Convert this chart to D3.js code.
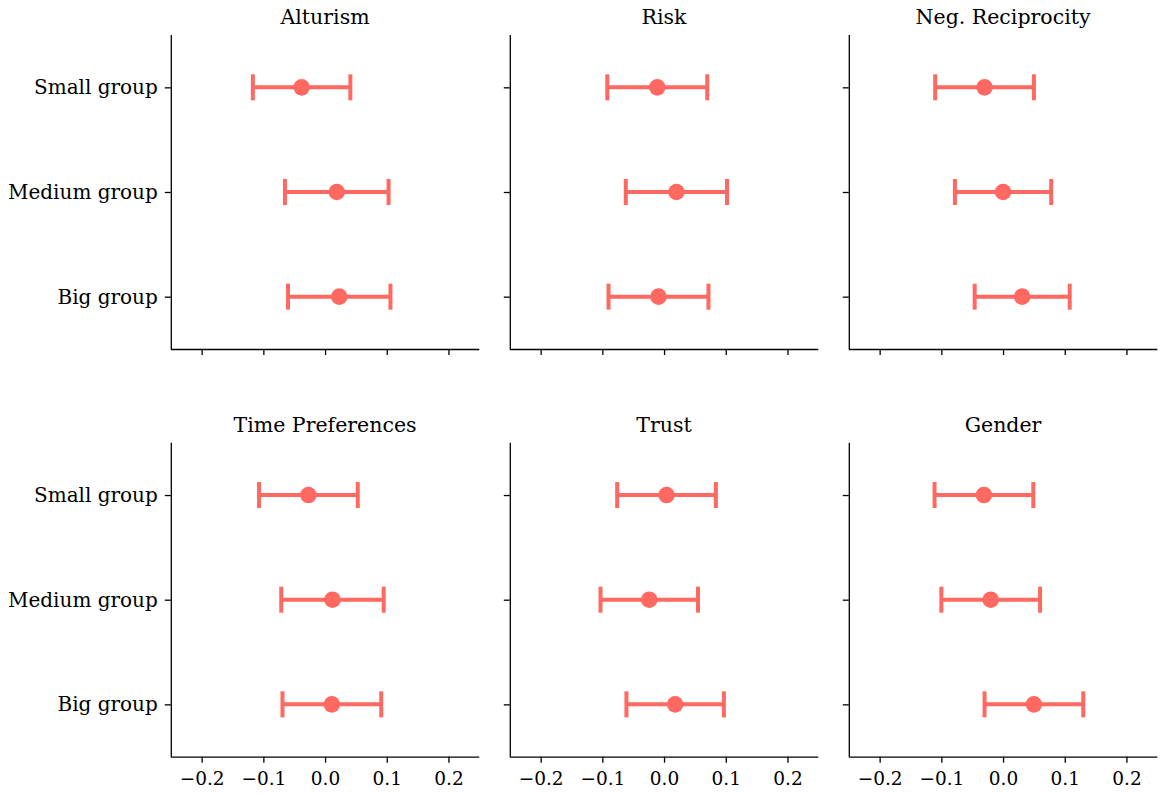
<!DOCTYPE html>
<html>
<head>
<meta charset="utf-8">
<script src="https://cdn.jsdelivr.net/npm/d3@7"></script>
<style>
  html, body { margin: 0; padding: 0; background: #fff; }
  svg { display: block; }
  text { font-family: "DejaVu Serif", serif; fill: #000; }
</style>
</head>
<body>
<svg id="chart" width="1163" height="794"></svg>
<script>
// ---- data ----
const panelTitles = ["Alturism", "Risk", "Neg. Reciprocity", "Time Preferences", "Trust", "Gender"];
const groups = ["Small group", "Medium group", "Big group"];
const xTicks = [-0.2, -0.1, 0.0, 0.1, 0.2];

const alturismMean = [-0.038, 0.019, 0.023];
const alturismErr  = [0.079, 0.084, 0.083];
const riskMean = [-0.011, 0.020, -0.009];
const riskErr  = [0.081, 0.082, 0.081];
const negRecMean = [-0.030, 0.000, 0.031];
const negRecErr  = [0.080, 0.078, 0.077];
const timePrefMean = [-0.027, 0.012, 0.011];
const timePrefErr  = [0.080, 0.083, 0.080];
const trustMean = [0.004, -0.024, 0.018];
const trustErr  = [0.080, 0.079, 0.079];
const genderMean = [-0.031, -0.020, 0.050];
const genderErr  = [0.080, 0.080, 0.080];

const means = [alturismMean, riskMean, negRecMean, timePrefMean, trustMean, genderMean];
const errs = [alturismErr, riskErr, negRecErr, timePrefErr, trustErr, genderErr];

// ---- layout ----
const colX = [170.8, 509.8, 848.8];
const panelW = 308.5;
const rowY = [35, 442.7];
const panelH = 314;
const color = "#ff6961";
const fontFam = '"DejaVu Serif", serif';
const labelSize = 20;
const tickSize = 18.5;
const titleSize = 20.5;

const svg = d3.select("#chart");

panelTitles.forEach((title, i) => {
  const col = i % 3, row = Math.floor(i / 3);
  const g = svg.append("g").attr("transform", `translate(${colX[col]},${rowY[row]})`);

  const x = d3.scaleLinear().domain([-0.25, 0.25]).range([0, panelW]);
  const y = d3.scaleLinear().domain([-0.5, 2.5]).range([0, panelH]);

  // title
  g.append("text")
    .attr("x", panelW / 2)
    .attr("y", -11)
    .attr("text-anchor", "middle")
    .style("font-size", titleSize + "px")
    .style("font-family", fontFam)
    .text(title);

  // left axis
  const yAxis = d3.axisLeft(y)
    .tickValues([0, 1, 2])
    .tickSize(6)
    .tickPadding(7)
    .tickFormat(d => col === 0 ? groups[d] : "");
  const ya = g.append("g").call(yAxis);
  ya.select(".domain").attr("d", `M0.5,0V${panelH}`).attr("stroke-width", 1.3);
  ya.selectAll(".tick line").attr("stroke-width", 1.3);
  ya.selectAll("text").style("font-size", labelSize + "px").style("font-family", fontFam);

  // bottom axis
  const xAxis = d3.axisBottom(x)
    .tickValues(xTicks)
    .tickSize(6)
    .tickPadding(9)
    .tickFormat(d => row === 1 ? d3.format(".1f")(d) : "");
  const xa = g.append("g").attr("transform", `translate(0,${panelH})`).call(xAxis);
  xa.select(".domain").attr("d", `M0,0.5H${panelW}`).attr("stroke-width", 1.3);
  xa.selectAll(".tick line").attr("stroke-width", 1.3);
  xa.selectAll("text").style("font-size", tickSize + "px").style("font-family", fontFam);

  // error bars
  const data = groups.map((grp, k) => ({ k, m: means[i][k], e: errs[i][k] }));
  const eb = g.append("g");
  eb.selectAll("line.h").data(data).join("line")
    .attr("x1", d => x(d.m - d.e)).attr("x2", d => x(d.m + d.e))
    .attr("y1", d => y(d.k)).attr("y2", d => y(d.k))
    .attr("stroke", color).attr("stroke-width", 4);
  eb.selectAll("line.cl").data(data).join("line")
    .attr("x1", d => x(d.m - d.e)).attr("x2", d => x(d.m - d.e))
    .attr("y1", d => y(d.k) - 13).attr("y2", d => y(d.k) + 13)
    .attr("stroke", color).attr("stroke-width", 4);
  eb.selectAll("line.cr").data(data).join("line")
    .attr("x1", d => x(d.m + d.e)).attr("x2", d => x(d.m + d.e))
    .attr("y1", d => y(d.k) - 13).attr("y2", d => y(d.k) + 13)
    .attr("stroke", color).attr("stroke-width", 4);
  eb.selectAll("circle").data(data).join("circle")
    .attr("cx", d => x(d.m)).attr("cy", d => y(d.k))
    .attr("r", 8.3)
    .attr("fill", color);
});
</script>
</body>
</html>
